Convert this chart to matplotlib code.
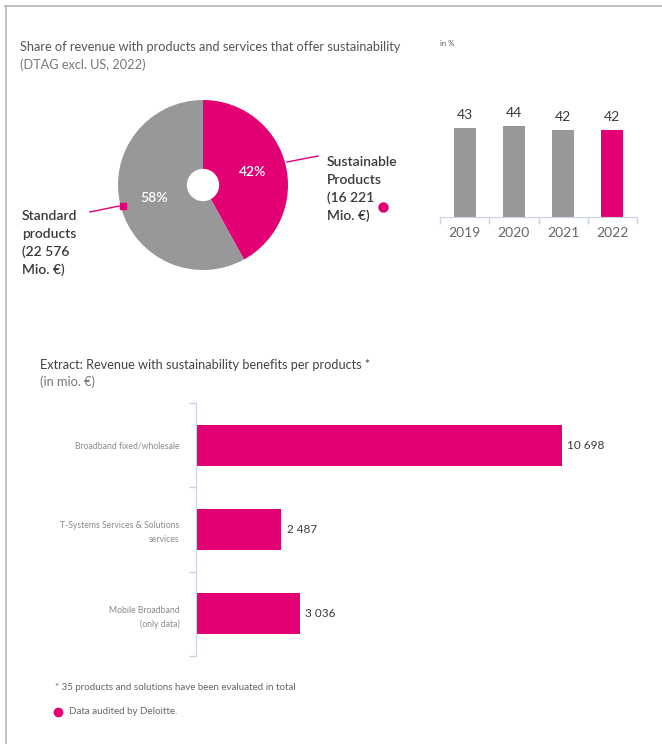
import matplotlib.pyplot as plt
from matplotlib.lines import Line2D
from matplotlib.patches import Rectangle

plt.rcParams['font.family'] = ['Lato', 'DejaVu Sans']

MAGENTA = '#e20074'
GREY = '#98989a'
AXIS = '#c9d1e3'
TEXT = '#3a3a3a'
LIGHT = '#8a8a8a'

# share of revenue 2022 (pie)
share_labels = ['Sustainable\nProducts\n(16 221\nMio. €)', 'Standard\nproducts\n(22 576\nMio. €)']
share_values = [42, 58]

# share per year (in %)
years = ['2019', '2020', '2021', '2022']
year_share = [43, 44, 42, 42]

# revenue per product group (mio. €)
products = ['Broadband fixed/wholesale', 'T-Systems Services & Solutions\nservices',
            'Mobile Broadband\n(only data)']
product_revenue = [10698, 2487, 3036]

W, H = 662, 744
fig = plt.figure(figsize=(W / 100, H / 100), dpi=100)


def px_axes(left, top, width, height):
    # place an axes using pixel coordinates measured from the top-left corner
    return fig.add_axes([left / W, 1 - (top + height) / H, width / W, height / H])


def px_text(x, y, s, **kw):
    fig.text(x / W, 1 - y / H, s, **kw)


def px_dot(x, y, size=7):
    fig.add_artist(Line2D([x / W], [1 - y / H], marker='o', markersize=size, color=MAGENTA,
                          markeredgewidth=0, linestyle='none'))


def fmt(v):
    return f'{v:,}'.replace(',', ' ')


# frame
fig.add_artist(Line2D([5 / W, 1], [1 - 6 / H] * 2, color='#b5b5b5', lw=1.2))
fig.add_artist(Line2D([6 / W] * 2, [0, 1 - 6 / H], color='#b5b5b5', lw=1.2))

# headings
px_text(20, 47, 'Share of revenue with products and services that offer sustainability',
        fontsize=9.2, color='#555555', va='center')
px_text(440, 44, 'in %', fontsize=5.5, color='#555555', va='center')
px_text(20, 65, '(DTAG excl. US, 2022)', fontsize=9.2, color='#777777', va='center')

# donut
ax = px_axes(118, 100, 170, 170)
wedges, _, pct = ax.pie(share_values, colors=[MAGENTA, GREY], startangle=90, counterclock=False,
                        radius=1, autopct=lambda p: f'{p:.0f}%', pctdistance=0.6,
                        wedgeprops=dict(width=0.81, linewidth=0))
for t in pct:
    t.set_color('white')
    t.set_fontsize(10)
    t.set_fontweight('semibold')
ax.set_xlim(-1, 1)
ax.set_ylim(-1, 1)
ax.set_aspect('equal')

# leader lines and side labels
fig.add_artist(Line2D([287 / W, 318 / W], [1 - 162 / H, 1 - 156 / H], color=MAGENTA, lw=1))
fig.add_artist(Line2D([90 / W, 119 / W], [1 - 212 / H, 1 - 206 / H], color=MAGENTA, lw=1))
fig.add_artist(Rectangle((120 / W, 1 - 209 / H), 6 / W, 6 / H, color=MAGENTA,
                         transform=fig.transFigure))
px_text(327, 156, share_labels[0], fontsize=10, color=TEXT, va='top', linespacing=1.55,
        fontweight='semibold')
px_text(22, 210, share_labels[1], fontsize=10, color=TEXT, va='top', linespacing=1.55,
        fontweight='semibold')
px_dot(383, 207, 7.5)

# yearly share bars
ax2 = px_axes(440, 101, 197, 116)
x = range(len(years))
ax2.bar(x, year_share, width=0.45, color=[GREY, GREY, GREY, MAGENTA])
for i, v in enumerate(year_share):
    ax2.annotate(str(v), (i, v), xytext=(0, 5), textcoords='offset points', ha='center',
                 va='bottom', fontsize=10, color=TEXT)
ax2.set_xlim(-0.5, 3.5)
ax2.set_ylim(0, 56)
ax2.set_xticks(list(x))
ax2.set_xticklabels(years, fontsize=10, color='#666666')
ax2.set_xticks([-0.5, 0.5, 1.5, 2.5, 3.5], minor=True)
ax2.tick_params(axis='x', which='major', length=0, pad=7)
ax2.tick_params(axis='x', which='minor', length=5, color=AXIS, width=1)
ax2.set_yticks([])
for s in ['top', 'right', 'left']:
    ax2.spines[s].set_visible(False)
ax2.spines['bottom'].set_color(AXIS)

# products heading
px_text(40, 365, 'Extract: Revenue with sustainability benefits per products *',
        fontsize=9.2, color='#444444', va='center')
px_text(40, 382, '(in mio. €)', fontsize=9.2, color='#777777', va='center')

# products bars
ax3 = px_axes(196, 403, 410, 253)
y = range(len(products))
ax3.barh(y, product_revenue, height=0.485, color=MAGENTA)
for i, v in enumerate(product_revenue):
    ax3.annotate(fmt(v), (v, i), xytext=(4, 0), textcoords='offset points', ha='left',
                 va='center', fontsize=8.5, color=TEXT)
ax3.set_ylim(2.5, -0.5)
ax3.set_xlim(0, 12000)
ax3.set_yticks(list(y))
ax3.set_yticklabels(products, fontsize=6.2, color=LIGHT, linespacing=1.7)
ax3.set_yticks([-0.5, 0.5, 1.5, 2.5], minor=True)
ax3.tick_params(axis='y', which='major', length=0, pad=12)
ax3.tick_params(axis='y', which='minor', length=5, color=AXIS, width=1)
ax3.set_xticks([])
for s in ['top', 'right', 'bottom']:
    ax3.spines[s].set_visible(False)
ax3.spines['left'].set_color(AXIS)

# notes
px_text(55, 688, '* 35 products and solutions have been evaluated in total', fontsize=7,
        color='#666666', va='center')
px_dot(58, 712, 7)
px_text(69, 712, 'Data audited by Deloitte.', fontsize=7, color='#666666', va='center')

fig.savefig('out.png', dpi=100, facecolor='white')
